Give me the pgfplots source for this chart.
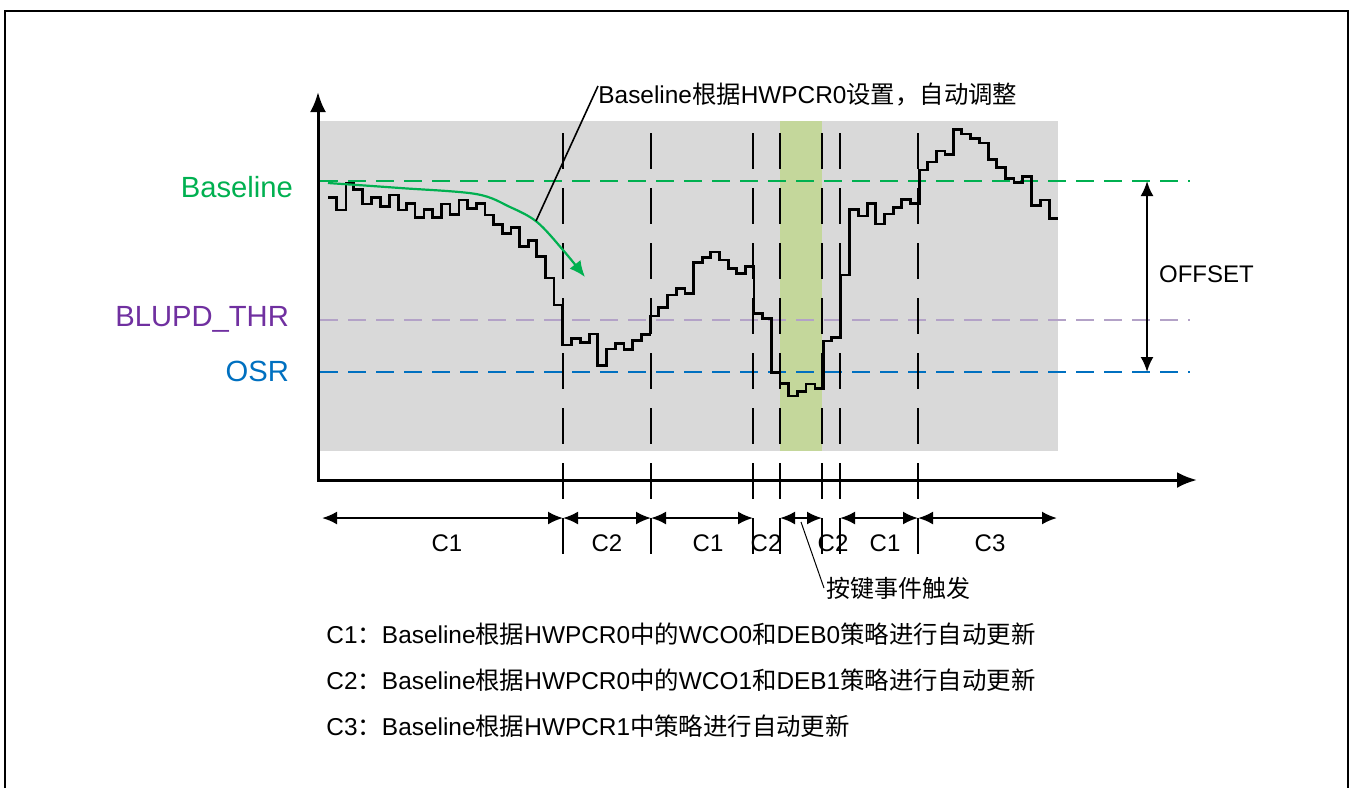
\documentclass[border=0pt]{standalone}
\usepackage{pgfplots}
\pgfplotsset{compat=1.18}
\usetikzlibrary{arrows.meta}
\usepackage{fontspec}
\setmainfont{Liberation Sans}
\newfontfamily\cjk{Noto Sans CJK SC}
\newcommand{\cj}[1]{{\cjk #1}}

\definecolor{graybg}{RGB}{217,217,217}
\definecolor{keyband}{RGB}{196,215,155}
\definecolor{blgreen}{RGB}{0,176,80}
\definecolor{thrline}{RGB}{179,162,199}
\definecolor{thrtext}{RGB}{112,48,160}
\definecolor{osrblue}{RGB}{0,112,192}

% waveform: step start x, level (pixel coordinates, y downwards)
\pgfplotstableread{
x y
328.3 197.3
336.7 210
346.0 183.3
353.3 189.3
362.7 204
371.7 197.7
380.7 206.7
389.3 195
398.3 210
406.7 203.3
415.0 217.3
424.0 209.3
432.7 217.3
441.7 204
450.0 214.3
459.0 200
467.7 208.3
476.7 203.3
485.0 215
493.3 224.3
502.3 233.3
511.0 227.3
519.3 246.7
528.3 240.7
536.7 256.7
545.5 278
554.2 305
562.7 345
571.7 338.3
580.7 342.7
589.3 334
597.7 365.7
606.7 349
615.3 343.3
624.0 349.3
632.7 340.7
641.3 334.3
650.0 316
658.7 307.3
667.7 295
676.7 288.3
685.0 293.3
693.3 262.3
702.3 257.7
710.7 252
719.3 260
728.3 268.3
736.7 273.3
745.5 266.7
754.0 313.7
762.7 318.3
771.7 372.3
780.0 383.5
788.7 396
797.3 391.7
806.0 384
815.0 388.3
823.3 341
831.7 337.3
840.7 275
849.3 209.3
858.3 216
867.3 203.3
875.7 224
884.3 214
893.3 207.7
901.7 199.3
910.7 203.3
919.3 170
927.7 162
936.7 151
945.0 154.3
953.3 129.3
961.7 134
970.7 138.7
979.3 143
988.3 159.3
996.7 167.7
1005.7 178.3
1014.0 182.7
1022.7 176.7
1031.7 205.3
1040.7 200
1049.3 218.3
1058.3 218.3
}\wave

\begin{document}
\begin{tikzpicture}
\begin{axis}[
    scale only axis,
    width=676.5pt, height=394pt,
    xmin=0, xmax=1353, ymin=0, ymax=788,
    y dir=reverse,
    hide axis, clip=false,
    vline/.style={line width=1.2pt, dash pattern=on 18pt off 9.5pt},
    dbl/.style={line width=1.1pt, {Latex[length=7.5pt,width=6.5pt]}-{Latex[length=7.5pt,width=6.5pt]}},
]
% page extent and frame
\addplot[draw=none] coordinates {(0,0) (1353,788)};
\addplot[line width=1pt] coordinates {(5,788) (5,11) (1348,11) (1348,788)};

% shaded regions
\addplot[fill=graybg, draw=none] coordinates {(318,121) (1058,121) (1058,451) (318,451)} -- cycle;
\addplot[fill=keyband, draw=none] coordinates {(780,121) (822,121) (822,451) (780,451)} -- cycle;

% reference levels
\addplot[blgreen, line width=1.3pt, dash pattern=on 9pt off 5pt] coordinates {(320,181) (1190,181)};
\addplot[thrline, line width=1.3pt, dash pattern=on 9pt off 5pt] coordinates {(320,320) (1190,320)};
\addplot[osrblue, line width=1.3pt, dash pattern=on 9pt off 5pt] coordinates {(320,372) (1190,372)};

% phase boundaries
\addplot[vline] coordinates {(563,133) (563,555)};
\addplot[vline] coordinates {(651,133) (651,555)};
\addplot[vline] coordinates {(753,133) (753,555)};
\addplot[vline] coordinates {(780,133) (780,555)};
\addplot[vline] coordinates {(822,133) (822,555)};
\addplot[vline] coordinates {(840,133) (840,555)};
\addplot[vline] coordinates {(918,133) (918,555)};

% signal
\addplot[const plot, black, line width=1.25pt] table[x=x, y=y] {\wave};

% baseline trend arrow
\addplot[blgreen, line width=1.1pt, smooth, tension=0.55, -{Latex[length=8pt,width=7pt]}]
    coordinates {(328,183) (400,188) (476,194) (510,207) (537,222) (563,250) (585,277)};

% axes
\addplot[line width=1.5pt, -{Latex[length=10pt,width=8pt]}] coordinates {(318,481) (318,92)};
\addplot[line width=1.5pt, -{Latex[length=10pt,width=8pt]}] coordinates {(317,480) (1197,480)};

% phase arrows
\addplot[dbl] coordinates {(322,518) (563,518)};
\addplot[dbl] coordinates {(563,518) (651,518)};
\addplot[dbl] coordinates {(651,518) (753,518)};
\addplot[dbl] coordinates {(780,518) (822,518)};
\addplot[dbl] coordinates {(840,518) (918,518)};
\addplot[dbl] coordinates {(918,518) (1057,518)};

% offset arrow
\addplot[dbl] coordinates {(1147,181) (1147,372)};

% leaders
\addplot[line width=0.8pt] coordinates {(536,221) (598,86)};
\addplot[line width=0.5pt] coordinates {(801,522) (824,588)};

% labels
\node[anchor=east, text=blgreen, font=\fontsize{14.6}{18}\selectfont] at (axis cs:300,187) {Baseline};
\node[anchor=east, text=thrtext, font=\fontsize{14.6}{18}\selectfont] at (axis cs:296,319) {BLUPD\_THR};
\node[anchor=east, text=osrblue, font=\fontsize{14.6}{18}\selectfont] at (axis cs:296,371) {OSR};
\node[anchor=west, font=\fontsize{12}{14}\selectfont] at (axis cs:1152,274) {OFFSET};
\node[anchor=west, inner sep=0pt, font=\fontsize{12.2}{14}\selectfont] at (axis cs:598,95) {Baseline\cj{根据}HWPCR0\cj{设置，自动调整}};

\begin{scope}[every node/.style={font=\fontsize{12}{14}\selectfont}]
\node at (axis cs:447,543) {C1};
\node at (axis cs:607,543) {C2};
\node at (axis cs:708,543) {C1};
\node at (axis cs:766,543) {C2};
\node at (axis cs:833,543) {C2};
\node at (axis cs:885,543) {C1};
\node at (axis cs:990,543) {C3};
\end{scope}
\node[anchor=west, inner sep=1pt, font=\fontsize{12}{14}\selectfont] at (axis cs:824,588) {\cj{按键事件触发}};

\begin{scope}[every node/.style={anchor=west, inner sep=0pt, font=\fontsize{12.2}{14}\selectfont}]
\node at (axis cs:326,634) {C1\cj{：}Baseline\cj{根据}HWPCR0\cj{中的}WCO0\cj{和}DEB0\cj{策略进行自动更新}};
\node at (axis cs:326,680) {C2\cj{：}Baseline\cj{根据}HWPCR0\cj{中的}WCO1\cj{和}DEB1\cj{策略进行自动更新}};
\node at (axis cs:326,726) {C3\cj{：}Baseline\cj{根据}HWPCR1\cj{中策略进行自动更新}};
\end{scope}
\end{axis}
\end{tikzpicture}
\end{document}
